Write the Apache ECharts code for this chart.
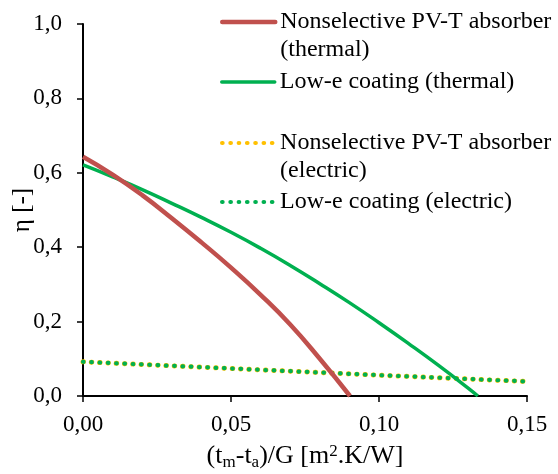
<!DOCTYPE html>
<html>
<head>
<meta charset="utf-8">
<script src="https://cdn.jsdelivr.net/npm/echarts@6/dist/echarts.min.js"></script>
<style>html,body{margin:0;padding:0;background:#fff}#c{width:558px;height:474px}</style>
</head>
<body>
<div id="c"></div>
<script>
var seriesNames = [
  'Nonselective PV-T absorber\n(thermal)',
  'Low-e coating (thermal)',
  'Nonselective PV-T absorber\n(electric)',
  'Low-e coating (electric)'
];
var redThermalX = [0, 0.01, 0.02, 0.03, 0.04, 0.05, 0.06, 0.07, 0.08, 0.0902];
var redThermalY = [0.643, 0.595, 0.540, 0.478, 0.413, 0.345, 0.272, 0.192, 0.100, 0.0];
var greenThermalX = [0, 0.01, 0.02, 0.03, 0.04, 0.05, 0.06, 0.07, 0.08, 0.09, 0.10, 0.11, 0.12, 0.13, 0.1334];
var greenThermalY = [0.621, 0.589, 0.555, 0.518, 0.480, 0.440, 0.397, 0.351, 0.302, 0.251, 0.197, 0.141, 0.083, 0.022, 0.0];
var electricX = [0, 0.05, 0.10, 0.15];
var redElectricY = [0.092, 0.074, 0.056, 0.039];
var greenElectricY = [0.092, 0.074, 0.056, 0.039];
var xTicks = [0, 0.05, 0.10, 0.15];
var yTicks = [0, 0.2, 0.4, 0.6, 0.8, 1.0];

function pairs(xs, ys) { return xs.map(function (x, i) { return [x, ys[i]]; }); }

var font = 'Liberation Serif';
var colors = ['#C0504D', '#00B050', '#FFC000', '#00B050'];
var widths = [4.5, 3.5, 5, 4.2];
var dotted = [0.5, 7.8];
var twoLine = [true, false, true, false];
var iconY = [22, 82, 143, 202];

var chart = echarts.init(document.getElementById('c'));
var legends = seriesNames.map(function (n, i) {
  return {
    data: [n], left: 220, top: twoLine[i] ? iconY[i] - 42 : iconY[i] - 14, orient: 'vertical',
    itemWidth: 53, itemHeight: 4, itemGap: 0, padding: 0,
    itemStyle: { opacity: 0 },
    lineStyle: { width: i < 2 ? widths[i] : 4.2, cap: 'round' },
    formatter: function (name) { return twoLine[i] ? '\n' + name : name; },
    textStyle: { fontFamily: font, fontSize: 24, color: '#000', lineHeight: 28 },
    selectedMode: false
  };
});
chart.setOption({
  animation: false,
  backgroundColor: '#fff',
  color: colors,
  legend: legends,
  grid: { left: 83, right: 31, top: 24, bottom: 78, containLabel: false, outerBoundsMode: 'none' },
  xAxis: {
    type: 'value', min: 0, max: 0.15, interval: 0.05,
    axisLine: { lineStyle: { color: '#000', width: 2 } },
    axisTick: { show: true, length: 6, lineStyle: { color: '#000', width: 1.5 } },
    splitLine: { show: false },
    axisLabel: {
      fontFamily: font, fontSize: 23, color: '#000', margin: 17,
      formatter: function (v) { return v.toFixed(2).replace('.', ','); }
    },
    name: '{n|(t}{s|m}{n|-t}{s|a}{n|)/G [m}{p|2}{n|.K/W]}',
    nameLocation: 'middle', nameGap: 46, nameMoveOverlap: false,
    nameTextStyle: {
      rich: {
        n: { fontFamily: font, fontSize: 26, color: '#000' },
        s: { fontFamily: font, fontSize: 17, color: '#000', padding: [12, 0, 0, 0] },
        p: { fontFamily: font, fontSize: 17, color: '#000', padding: [0, 0, 10, 0] }
      }
    }
  },
  yAxis: {
    type: 'value', min: 0, max: 1.0, interval: 0.2,
    axisLine: { show: true, lineStyle: { color: '#000', width: 2 } },
    axisTick: { show: true, length: 6, lineStyle: { color: '#000', width: 1.5 } },
    splitLine: { show: false },
    axisLabel: {
      fontFamily: font, fontSize: 23, color: '#000', margin: 21,
      formatter: function (v) { return v.toFixed(1).replace('.', ','); }
    },
    name: 'η [-]', nameLocation: 'middle', nameGap: 48, nameMoveOverlap: false,
    nameTextStyle: { fontFamily: font, fontSize: 25, color: '#000' }
  },
  series: [
    { name: seriesNames[0], type: 'line', data: pairs(redThermalX, redThermalY), symbol: 'none', smooth: true, z: 3,
      lineStyle: { color: colors[0], width: widths[0] }, itemStyle: { color: colors[0] } },
    { name: seriesNames[1], type: 'line', data: pairs(greenThermalX, greenThermalY), symbol: 'none', smooth: true, z: 2,
      lineStyle: { color: colors[1], width: widths[1] }, itemStyle: { color: colors[1] } },
    { name: seriesNames[2], type: 'line', data: pairs(electricX, redElectricY), symbol: 'none', z: 1,
      lineStyle: { color: colors[2], width: widths[2], type: dotted, cap: 'round' }, itemStyle: { color: colors[2] } },
    { name: seriesNames[3], type: 'line', data: pairs(electricX, greenElectricY), symbol: 'none', z: 1,
      lineStyle: { color: colors[3], width: widths[3], type: dotted, cap: 'round' }, itemStyle: { color: colors[3] } }
  ]
});
</script>
</body>
</html>
